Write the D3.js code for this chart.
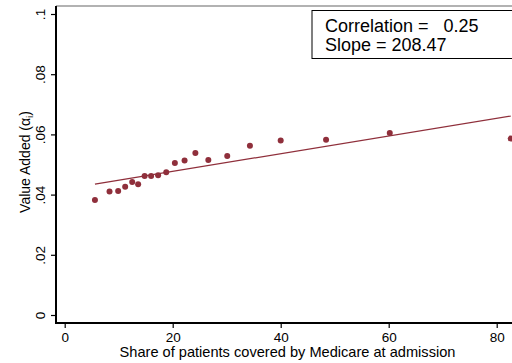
<!DOCTYPE html>
<html>
<head>
<meta charset="utf-8">
<script src="https://cdn.jsdelivr.net/npm/d3@7"></script>
<style>
  html, body { margin: 0; padding: 0; background: #fff; }
  svg { display: block; font-family: "Liberation Sans", Arial, Helvetica, sans-serif; }
</style>
</head>
<body>
<svg id="chart" width="512" height="363"></svg>
<script>
// ---- data ----
const shareMedicare = [5.6, 8.3, 9.9, 11.2, 12.5, 13.6, 14.8, 16.0, 17.3, 18.8,
                       20.4, 22.2, 24.2, 26.6, 30.1, 34.3, 40.0, 48.4, 60.2, 82.6];
const valueAdded    = [0.0382, 0.0410, 0.0412, 0.0426, 0.0442, 0.0434, 0.0462, 0.0462, 0.0464, 0.0474,
                       0.0505, 0.0513, 0.0538, 0.0515, 0.0528, 0.0562, 0.0580, 0.0582, 0.0605, 0.0586];
const fitX = [5.6, 82.6];
const fitY = [0.0435, 0.0661];
const xTicks = [0, 20, 40, 60, 80];
const yTicks = [0, 0.02, 0.04, 0.06, 0.08, 0.1];
const yTickLabels = ["0", ".02", ".04", ".06", ".08", ".1"];
const statLines = ["Correlation =   0.25", "Slope = 208.47"];

const svg = d3.select("#chart");
const color = "#8f2f3b";

const x = d3.scaleLinear().domain([0, 80]).range([64.7, 496.7]);
const y = d3.scaleLinear().domain([0, 0.1]).range([315, 14]);

const pLeft = 56, pTop = 6, pBottom = 323, pRight = 512;

// top frame
svg.append("line").attr("x1", pLeft).attr("x2", pRight).attr("y1", pTop).attr("y2", pTop)
  .attr("stroke", "#666").attr("stroke-width", 1.2);

// x axis
const xAxis = svg.append("g").attr("transform", `translate(0,${pBottom})`)
  .call(d3.axisBottom(x).tickValues(xTicks).tickSize(5).tickSizeOuter(0).tickFormat(d3.format("d")));
xAxis.select(".domain").remove();
xAxis.selectAll(".tick line").attr("stroke", "#000").attr("stroke-width", 1.2);
xAxis.selectAll(".tick text").attr("font-size", 13.5).attr("fill", "#000").attr("dy", null).attr("y", 18.5)
  .attr("font-family", "Liberation Sans, Arial, sans-serif");
svg.append("line").attr("x1", pLeft - 1).attr("x2", pRight).attr("y1", pBottom).attr("y2", pBottom)
  .attr("stroke", "#000").attr("stroke-width", 2);

// y axis
const yAxis = svg.append("g").attr("transform", `translate(${pLeft},0)`)
  .call(d3.axisLeft(y).tickValues(yTicks).tickSize(5).tickSizeOuter(0)
    .tickFormat((d, i) => yTickLabels[i]));
yAxis.select(".domain").remove();
yAxis.selectAll(".tick line").attr("stroke", "#000").attr("stroke-width", 1.2);
yAxis.selectAll(".tick text")
  .attr("font-size", 13.5).attr("fill", "#000")
  .attr("font-family", "Liberation Sans, Arial, sans-serif")
  .attr("x", null).attr("dy", null)
  .attr("text-anchor", "middle")
  .attr("transform", "translate(-11,0) rotate(-90)");
svg.append("line").attr("x1", pLeft).attr("x2", pLeft).attr("y1", pTop).attr("y2", pBottom + 1)
  .attr("stroke", "#000").attr("stroke-width", 2);

// axis titles
svg.append("text").attr("x", 287.5).attr("y", 356.5)
  .attr("text-anchor", "middle").attr("font-size", 14.6).attr("fill", "#000")
  .text("Share of patients covered by Medicare at admission");

const yt = svg.append("text").attr("transform", `translate(30,162) rotate(-90)`)
  .attr("text-anchor", "middle").attr("font-size", 14).attr("fill", "#000");
yt.append("tspan").text("Value Added (\u03B1");
yt.append("tspan").attr("font-size", 9.5).attr("dy", 3).text("i");
yt.append("tspan").attr("dy", -3).text(")");

// fit line
svg.append("line")
  .attr("x1", x(fitX[0])).attr("y1", y(fitY[0]))
  .attr("x2", x(fitX[1])).attr("y2", y(fitY[1]))
  .attr("stroke", color).attr("stroke-width", 1.2);

// points
svg.append("g").selectAll("circle")
  .data(shareMedicare.map((d, i) => [d, valueAdded[i]]))
  .join("circle")
  .attr("cx", d => x(d[0])).attr("cy", d => y(d[1])).attr("r", 3)
  .attr("fill", color);

// stats box
svg.append("rect").attr("x", 312).attr("y", 10.5).attr("width", 220).attr("height", 48)
  .attr("fill", "#fff").attr("stroke", "#000").attr("stroke-width", 1);
statLines.forEach((t, i) => {
  svg.append("text").attr("x", 325).attr("y", 31.8 + i * 18.8)
    .attr("font-size", 18).attr("fill", "#000")
    .attr("xml:space", "preserve").style("white-space", "pre")
    .text(t);
});
</script>
</body>
</html>
